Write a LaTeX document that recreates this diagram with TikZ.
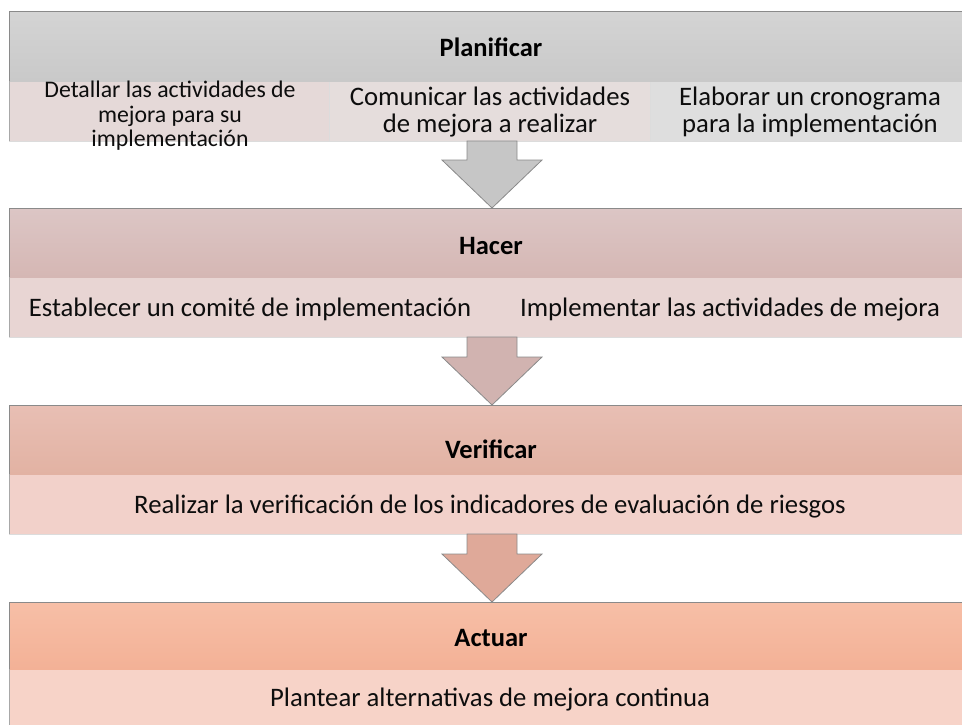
\documentclass[tikz,border=0pt]{standalone}
\usepackage{fontspec}
\setmainfont{Carlito}
\usetikzlibrary{calc}
\definecolor{hAt}{HTML}{D4D4D4}\definecolor{hAb}{HTML}{C9C9C9}
\definecolor{hBt}{HTML}{DCC6C5}\definecolor{hBb}{HTML}{D5B7B4}
\definecolor{hCt}{HTML}{E8BFB4}\definecolor{hCb}{HTML}{E2B2A3}
\definecolor{hDt}{HTML}{F7BFA7}\definecolor{hDb}{HTML}{F3B196}
\definecolor{sA1}{HTML}{E5D9D8}\definecolor{sA2}{HTML}{E5DDDC}\definecolor{sA3}{HTML}{DEDEDE}
\definecolor{sB}{HTML}{E8D5D3}\definecolor{sC}{HTML}{F2D1CA}\definecolor{sD}{HTML}{F7D3C8}
\definecolor{arA}{HTML}{C6C6C6}\definecolor{arB}{HTML}{D1B3B0}\definecolor{arC}{HTML}{DFA999}
\definecolor{edge}{HTML}{8A8A8A}\definecolor{subedge}{HTML}{DCDCDC}\definecolor{sideedge}{HTML}{A8A8A8}
\begin{document}
\begin{tikzpicture}[x=1pt,y=-1pt,
  hdrbox/.style={inner sep=0pt, outer sep=0pt, anchor=north west, minimum width=962pt},
  subbox/.style={draw=subedge, line width=0.6pt, inner sep=0pt, outer sep=0pt, anchor=north west, minimum height=60pt},
  hdrline/.style={draw=edge, line width=0.9pt},
  sideline/.style={draw=sideedge, line width=0.9pt},
  hdrtxt/.style={font=\fontsize{26.5}{30}\selectfont\bfseries, inner sep=0pt, anchor=base, text=black},
  subtxt/.style={font=\fontsize{26.7}{26.3}\selectfont, inner sep=0pt, align=center, text=black!95},
  smalltxt/.style={font=\fontsize{23.8}{24.5}\selectfont, inner sep=0pt, align=center, text=black!95},
  flowarrow/.style={draw=edge, line width=0.8pt, line join=miter}
]
\useasboundingbox (0,0) rectangle (962,724);
\clip (0,0) rectangle (962,724);

% Panel 1: Planificar
\node[subbox, fill=sA1, minimum width=320.67pt] (s11) at (9,81) {};
\node[subbox, fill=sA2, minimum width=320.67pt] (s12) at (329.67,81) {};
\node[subbox, fill=sA3, minimum width=320.67pt] (s13) at (650.33,81) {};
\node[hdrbox, top color=hAt, bottom color=hAb, minimum height=70pt] (h1) at (9,11) {};
\draw[sideline] (s11.south west) -- (s11.north west);
\draw[hdrline] (h1.south west) -- (h1.north west) -- (h1.north east);
\node[hdrtxt] (t1) at (491,56) {Planificar};
\node[smalltxt] (c11) at (170,116) {Detallar las actividades de\\mejora para su\\implementación};
\node[subtxt] (c12) at (490,112) {Comunicar las actividades\\de mejora a realizar};
\node[subtxt] (c13) at (810,112) {Elaborar un cronograma\\para la implementación};

% Panel 2: Hacer
\node[subbox, fill=sB, minimum width=962pt] (s2) at (9,277) {};
\node[hdrbox, top color=hBt, bottom color=hBb, minimum height=69pt] (h2) at (9,208) {};
\draw[sideline] (s2.south west) -- (s2.north west);
\draw[hdrline] (h2.south west) -- (h2.north west) -- (h2.north east);
\node[hdrtxt] (t2) at (491,254) {Hacer};
\node[subtxt, anchor=base] (c21) at (250,316) {Establecer un comité de implementación};
\node[subtxt, anchor=base] (c22) at (730,316) {Implementar las actividades de mejora};

% Panel 3: Verificar
\node[subbox, fill=sC, minimum width=962pt] (s3) at (9,474) {};
\node[hdrbox, top color=hCt, bottom color=hCb, minimum height=69pt] (h3) at (9,405) {};
\draw[sideline] (s3.south west) -- (s3.north west);
\draw[hdrline] (h3.south west) -- (h3.north west) -- (h3.north east);
\node[hdrtxt] (t3) at (491,458) {Verificar};
\node[subtxt, anchor=base] (c31) at (490,513.3) {Realizar la verificación de los indicadores de evaluación de riesgos};

% Panel 4: Actuar
\node[subbox, fill=sD, minimum width=962pt] (s4) at (9,669) {};
\node[hdrbox, top color=hDt, bottom color=hDb, minimum height=67pt] (h4) at (9,602) {};
\draw[sideline] (s4.south west) -- (s4.north west);
\draw[hdrline] (h4.south west) -- (h4.north west) -- (h4.north east);
\node[hdrtxt] (t4) at (491,646) {Actuar};
\node[subtxt, anchor=base] (c41) at (490,706.7) {Plantear alternativas de mejora continua};

% Arrows
\coordinate (a1s) at ($(s12.south)+(2,0)$);
\coordinate (a1e) at ($(h2.north)+(2,0)$);
\coordinate (a2s) at ($(s2.south)+(2,0)$);
\coordinate (a2e) at ($(h3.north)+(2,0)$);
\coordinate (a3s) at ($(s3.south)+(2,0)$);
\coordinate (a3e) at ($(h4.north)+(2,0)$);
\foreach \s/\e/\c in {a1s/a1e/arA, a2s/a2e/arB, a3s/a3e/arC}{
  \filldraw[flowarrow, fill=\c] ($(\s)+(-25,0)$) -- ($(\s)+(25,0)$) -- ($(\e)+(25,-48)$) -- ($(\e)+(50,-48)$) -- (\e) -- ($(\e)+(-50,-48)$) -- ($(\e)+(-25,-48)$) -- cycle;
}
\end{tikzpicture}
\end{document}
